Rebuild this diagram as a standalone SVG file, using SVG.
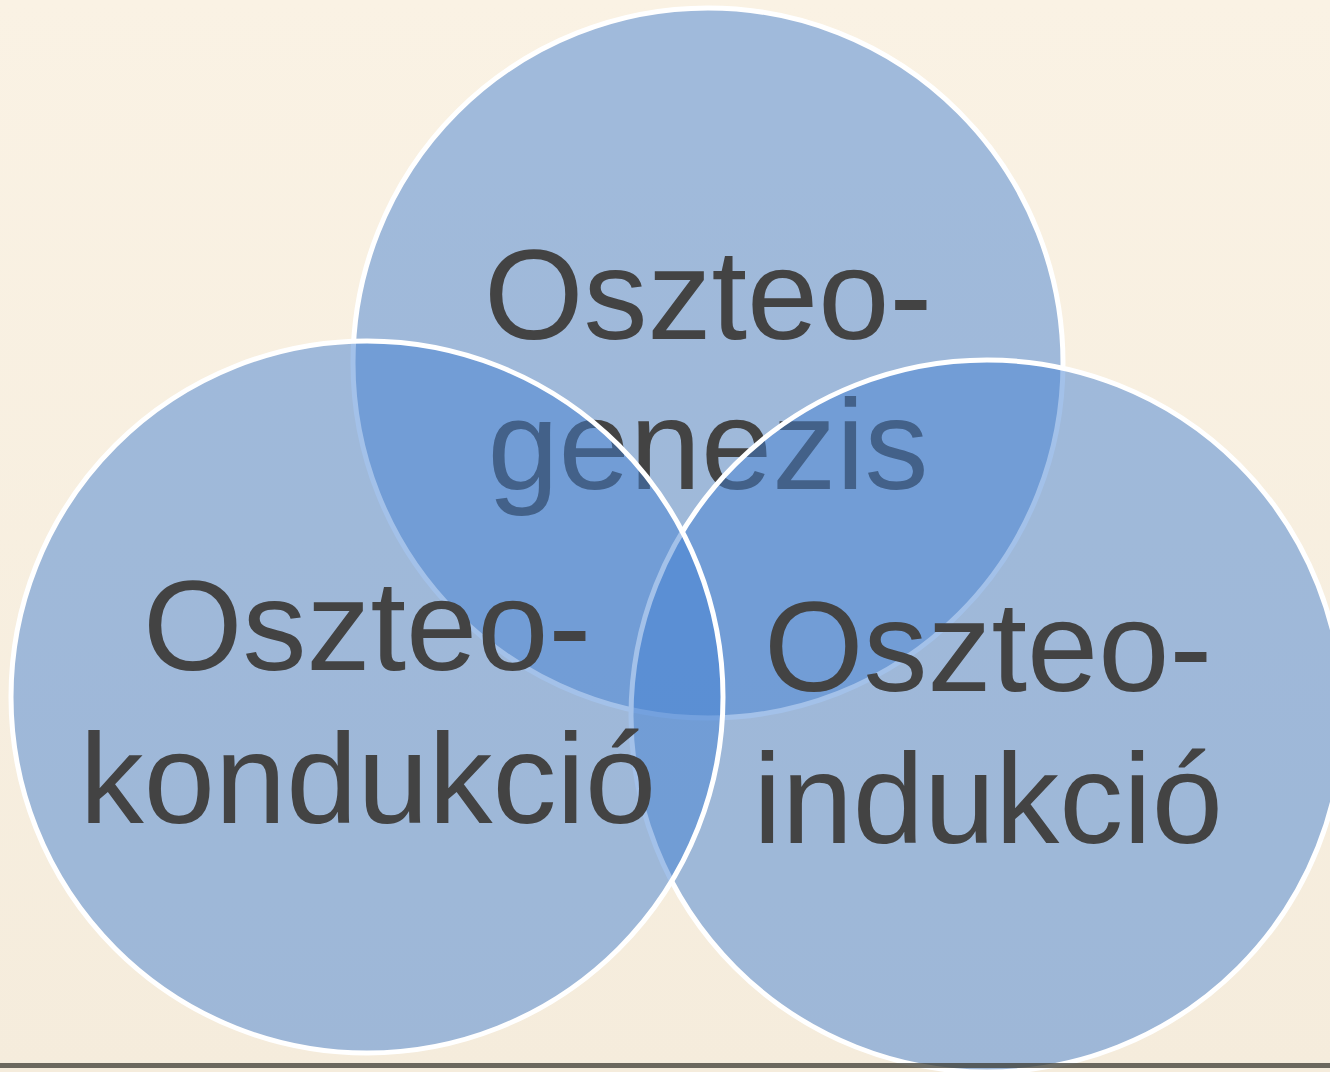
<svg xmlns="http://www.w3.org/2000/svg" width="1330" height="1072" viewBox="0 0 1330 1072">
<defs>
<style>
.bubble{fill:rgb(67,129,210);fill-opacity:0.49;stroke:#ffffff;stroke-width:5}
.lbl{font-family:"Liberation Sans",Arial,sans-serif;font-size:128px;fill:#434343;text-anchor:middle}
</style>
<linearGradient id="bg" x1="0" y1="0" x2="0" y2="1">
<stop offset="0" stop-color="#faf2e4"/>
<stop offset="1" stop-color="#f5ecdc"/>
</linearGradient>
</defs>
<rect x="0" y="0" width="1330" height="1072" fill="url(#bg)"/>
<g id="osteogenesis">
<circle class="bubble" cx="708" cy="363" r="355"/>
<text class="lbl" x="708" y="339">Oszteo-</text>
<text class="lbl" x="708" y="489">genezis</text>
</g>
<g id="osteoinduction">
<circle class="bubble" cx="987" cy="716" r="356"/>
<text class="lbl" x="988" y="691">Oszteo-</text>
<text class="lbl" x="988" y="843">indukció</text>
</g>
<g id="osteoconduction">
<circle class="bubble" cx="367" cy="697" r="356"/>
<text class="lbl" x="367" y="670">Oszteo-</text>
<text class="lbl" x="368" y="823">kondukció</text>
</g>
<g id="connectors"/>
<rect x="0" y="1063" width="1330" height="5" fill="#3c3c34" fill-opacity="0.75"/>
</svg>
